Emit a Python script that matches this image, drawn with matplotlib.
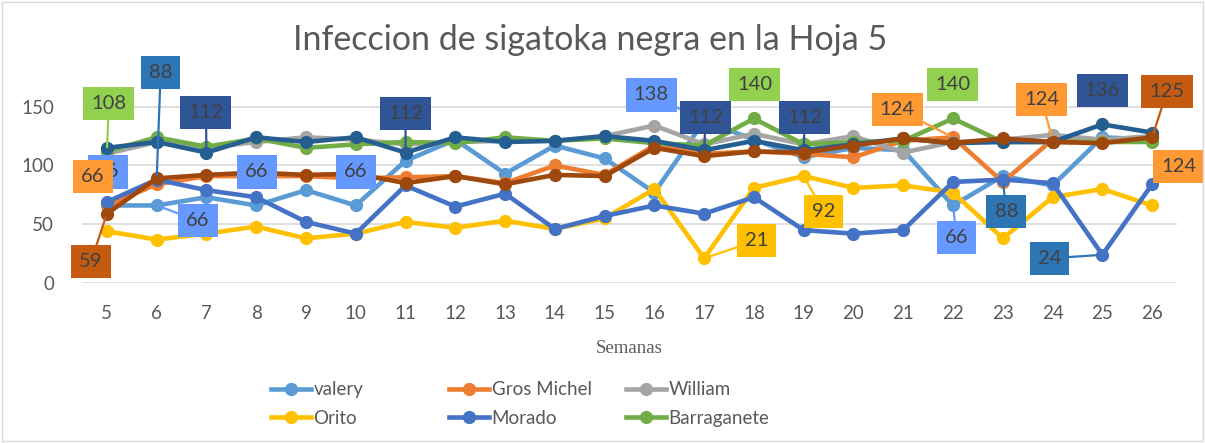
import numpy as np
import matplotlib
matplotlib.use("Agg")
import matplotlib.pyplot as plt
from matplotlib.lines import Line2D
from matplotlib.patches import Rectangle

plt.rcParams['font.family'] = ['Lato', 'DejaVu Sans']

###data
semanas = list(range(5, 27))
valery      = [66, 66, 73, 66, 79, 66, 104, 122, 93, 117, 106, 77, 138, 122, 107, 115, 113, 66, 91, 83, 124, 122]
gros_michel = [66, 84, 91, 91, 91, 89, 90, 91, 85, 100, 92, 117, 110, 112, 110, 107, 121, 124, 86, 122, 120, 124]
william     = [110, 120, 115, 120, 124, 122, 118, 120, 121, 121, 125, 134, 118, 127, 118, 125, 111, 120, 122, 126, 122, 125]
orito       = [44, 37, 42, 48, 38, 42, 52, 47, 53, 46, 55, 80, 21, 81, 91, 81, 83, 77, 38, 73, 80, 66]
morado      = [69, 88, 79, 73, 52, 42, 83, 65, 76, 46, 57, 66, 59, 73, 45, 42, 45, 86, 88, 85, 24, 84]
barraganete = [112, 124, 116, 123, 115, 118, 120, 119, 124, 121, 123, 119, 117, 140, 118, 120, 121, 140, 120, 120, 120, 120]
serie7      = [115, 120, 111, 124, 120, 124, 111, 124, 120, 121, 125, 121, 113, 121, 113, 118, 123, 119, 120, 120, 135, 128]
serie8      = [59, 89, 92, 94, 92, 93, 85, 91, 84, 92, 91, 115, 108, 112, 111, 117, 123, 119, 123, 120, 119, 124]

series = [
    ("valery", valery, "#5B9BD5"),
    ("Gros Michel", gros_michel, "#ED7D31"),
    ("William", william, "#A5A5A5"),
    ("Orito", orito, "#FFC000"),
    ("Morado", morado, "#4472C4"),
    ("Barraganete", barraganete, "#70AD47"),
    ("_s7", serie7, "#255E91"),
    ("_s8", serie8, "#9E480E"),
]

# data labels: text, series index, week, box centre (week, value), box colour, leader
etiquetas = [
    ("108", 5, 5, (5.04, 153), "#92D050", True),
    ("88", 4, 6, (6.08, 179), "#2E75B6", True),
    ("112", 6, 7, (6.99, 145), "#2F5597", True),
    ("66", 0, 5, (5.02, 94.5), "#6699FF", False),
    ("66", 1, 5, (4.72, 91), "#FF9933", False),
    ("59", 7, 5, (4.68, 18), "#C55A11", True),
    ("66", 0, 6, (6.83, 53), "#6699FF", True),
    ("66", 0, 8, (8.01, 94.5), "#6699FF", False),
    ("66", 0, 10, (10.0, 94.5), "#6699FF", False),
    ("112", 6, 11, (11.0, 144), "#2F5597", True),
    ("138", 0, 17, (15.94, 160), "#6699FF", True),
    ("112", 6, 17, (17.03, 140.5), "#2F5597", True),
    ("140", 5, 18, (18.01, 169), "#92D050", False),
    ("112", 6, 19, (19.02, 140.5), "#2F5597", True),
    ("21", 3, 17, (18.05, 36), "#FFC000", True),
    ("92", 3, 19, (19.4, 60.5), "#FFC000", True),
    ("124", 1, 22, (20.88, 148), "#FF9933", True),
    ("140", 5, 22, (21.99, 169), "#92D050", False),
    ("66", 0, 22, (22.07, 39), "#6699FF", True),
    ("88", 4, 23, (23.07, 61), "#2E75B6", True),
    ("124", 1, 24, (23.78, 156), "#FF9933", True),
    ("136", 6, 25, (25.0, 164), "#2F5597", False),
    ("24", 4, 25, (23.94, 21), "#2E75B6", True),
    ("125", 7, 26, (26.3, 163), "#C55A11", True),
    ("124", 4, 26, (26.53, 99), "#FF9933", False),
]

fig = plt.figure(figsize=(12.05, 4.43), dpi=100)
ax = fig.add_axes([82/1205, 1-283/443, 1095/1205, 188/443])

for nombre, vals, col in series:
    ax.plot(semanas, vals, color=col, lw=3.3, marker='o', ms=8.5,
            label=nombre, solid_capstyle='round', solid_joinstyle='round')

for txt, si, sem, pos, col, leader in etiquetas:
    yv = series[si][1][semanas.index(sem)]
    ap = None
    if leader:
        ap = dict(arrowstyle='-', color=col, lw=1.6, shrinkA=0, shrinkB=3)
    ax.annotate(txt, xy=(sem, yv), xytext=pos, textcoords='data',
                ha='center', va='center', fontsize=14.5, color='#404040',
                bbox=dict(boxstyle='square,pad=0.4', fc=col, ec='none'),
                arrowprops=ap, annotation_clip=False, zorder=10)

ax.set_xlim(4.5, 26.5)
ax.set_ylim(0, 160)
ax.set_yticks([0, 50, 100, 150])
ax.set_xticks(semanas)
ax.grid(axis='y', color='#D9D9D9', lw=1.2)
ax.set_axisbelow(True)
for s in ax.spines.values():
    s.set_visible(False)
ax.tick_params(axis='both', length=0, labelsize=13.5, labelcolor='#595959')
ax.tick_params(axis='y', pad=20)
ax.tick_params(axis='x', pad=16)
ax.set_xlabel("Semanas", family='Liberation Serif', fontsize=13.5,
              color='#595959', labelpad=13)

fig.text(590/1205, 1-40/443, "Infeccion de sigatoka negra en la Hoja 5",
         ha='center', va='center', fontsize=24.5, color='#595959')

# legend in three fixed columns
handles = [Line2D([], [], color=c, lw=3.3, marker='o', ms=8.5) for _, _, c in series[:6]]
names = [n for n, _, _ in series[:6]]
col_x = [262, 440, 617]
for k in range(3):
    idx = [k, k + 3]
    leg = fig.legend([handles[i] for i in idx], [names[i] for i in idx],
                     loc='upper left', bbox_to_anchor=(col_x[k]/1205, 1-372/443),
                     frameon=False, fontsize=13.5, handlelength=2.1,
                     handletextpad=0.15, labelspacing=0.62, borderpad=0)
    for t in leg.get_texts():
        t.set_color('#595959')

fig.add_artist(Rectangle((2/1205, 2/443), 1201/1205, 439/443, transform=fig.transFigure,
                         fill=False, ec='#D9D9D9', lw=1))

plt.savefig("out.png", dpi=100)
